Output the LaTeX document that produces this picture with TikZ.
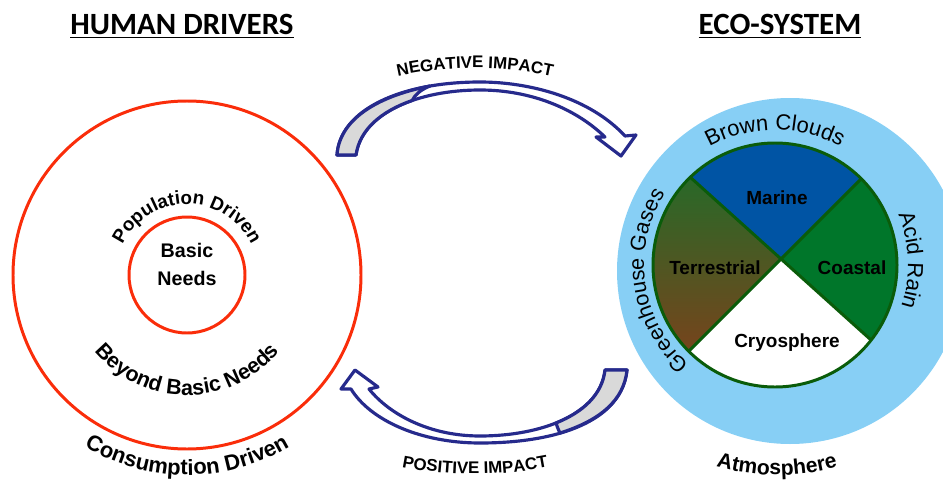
\documentclass[tikz,border=0pt]{standalone}
\usepackage{fontspec}
\setmainfont{Liberation Sans}
\newfontfamily\headfont{Carlito}
\usetikzlibrary{decorations.text}

\definecolor{ringred}{RGB}{250,45,10}
\definecolor{skyring}{RGB}{135,207,245}
\definecolor{marineblue}{RGB}{0,84,164}
\definecolor{coastgreen}{RGB}{0,118,42}
\definecolor{terrgreen}{RGB}{40,105,40}
\definecolor{terrbrown}{RGB}{118,68,28}
\definecolor{piegreen}{RGB}{10,92,10}
\definecolor{arrownavy}{RGB}{38,42,140}
\definecolor{backgray}{RGB}{217,217,217}

\begin{document}
\begin{tikzpicture}[x=0.02cm,y=0.02cm,
    title/.style={font=\headfont\bfseries\fontsize{17.6}{20}\selectfont, anchor=base},
    sector/.style={font=\bfseries\fontsize{10.8}{13}\selectfont},
    redring/.style={draw=ringred, line width=1.7pt},
    pieline/.style={draw=piegreen, line width=1.7pt},
    bandarrow/.style={draw=arrownavy, line width=1.8pt, line join=round},
    arclabel/.style={decorate, decoration={text along path, text align=center, text={#1}}}]

\clip (0,0) rectangle (943,481);

% titles
\node[title] (human) at (182,446) {\underline{HUMAN DRIVERS}};
\node[title] (eco) at (780,446) {\underline{ECO-SYSTEM}};

% human drivers
\coordinate (hc) at (187,206);
\draw[redring] (hc) circle[radius=174];
\draw[redring] (hc) circle[radius=58];
\node[font=\bfseries\fontsize{11.2}{15.9}\selectfont, align=center] (basic) at (187,217) {Basic\\Needs};
\path[arclabel={|\bfseries\fontsize{10.7}{12}\selectfont|Population Driven}]
    ([shift={(175:71)}]hc) arc[start angle=175, end angle=5, radius=71];
\path[arclabel={|\bfseries\fontsize{12.2}{14}\selectfont|Beyond Basic Needs}]
    ([shift={(200:120)}]hc) arc[start angle=200, end angle=340, radius=120];
\path[arclabel={|\bfseries\fontsize{12.5}{14}\selectfont|Consumption Driven}]
    ([shift={(230:200)}]hc) arc[start angle=230, end angle=310, radius=200];

% eco-system
\coordinate (ac) at (790,210);
\coordinate (pc) at (775,216);
\fill[skyring] (ac) circle[radius=173];
\coordinate (ul) at ([shift={(134:122)}]pc);
\coordinate (ur) at ([shift={(45:122)}]pc);
\coordinate (ll) at ([shift={(225:122)}]pc);
\coordinate (lr) at ([shift={(322:122)}]pc);
\coordinate (xc) at (intersection of ul--lr and ur--ll);
\fill[marineblue] (xc) -- (ur) arc[start angle=45, end angle=134, radius=122] -- cycle;
\shade[top color=terrgreen, bottom color=terrbrown] (xc) -- (ul) arc[start angle=134, end angle=225, radius=122] -- cycle;
\fill[white] (xc) -- (ll) arc[start angle=225, end angle=322, radius=122] -- cycle;
\fill[coastgreen] (xc) -- (lr) arc[start angle=322, end angle=405, radius=122] -- cycle;
\draw[pieline] (pc) circle[radius=122];
\draw[pieline] (ul) -- (lr);
\draw[pieline] (ur) -- (ll);
\node[sector] (marine) at (777,283) {Marine};
\node[sector] (terr) at (715,213) {Terrestrial};
\node[sector] (coast) at (852,213) {Coastal};
\node[sector] (cryo) at (787,138) {Cryosphere};

\path[arclabel={|\fontsize{12.5}{14}\selectfont|Brown Clouds}]
    ([shift={(130:135)}]pc) arc[start angle=130, end angle=50, radius=135];
\path[arclabel={|\fontsize{12.3}{14}\selectfont|Greenhouse Gases}]
    ([shift={(240:131)}]pc) arc[start angle=240, end angle=136, radius=131];
\path[arclabel={|\fontsize{12.5}{14}\selectfont|Acid Rain}]
    ([shift={(32:133)}]pc) arc[start angle=32, end angle=-28, radius=133];
\coordinate (atm) at (777,235);
\path[arclabel={|\bfseries\fontsize{12}{13}\selectfont|Atmosphere}]
    ([shift={(248:229)}]atm) arc[start angle=248, end angle=292, radius=229];

% negative impact arrow
\filldraw[bandarrow, fill=white] (337,326) .. controls (340,371) and (400,399) .. (480,399)
    .. controls (530,399) and (590,383) .. (625,345) -- (636,346) -- (621,325) -- (596,344) -- (605,344)
    .. controls (575,373) and (530,391) .. (480,391) .. controls (420,391) and (362,369) .. (356,326) -- cycle;
\filldraw[bandarrow, fill=backgray] (337,326) .. controls (339.3,359.8) and (373.6,383.9) .. (430,395)
    .. controls (420,391) and (415,386) .. (412.1,380.5) .. controls (381.9,370) and (359.6,351.8) .. (356,326) -- cycle;
\coordinate (negc) at (475,53);
\path[arclabel={|\bfseries\fontsize{9.6}{11}\selectfont|NEGATIVE IMPACT}]
    ([shift={(110:360)}]negc) arc[start angle=110, end angle=70, radius=360];

% positive impact arrow
\filldraw[bandarrow, fill=white] (627,111) .. controls (622,61) and (560,38) .. (480,38)
    .. controls (420,38) and (370,61) .. (351,92) -- (341,92) -- (355,111) -- (378,94) -- (369,92)
    .. controls (390,66) and (430,45) .. (480,45) .. controls (540,45) and (600,66) .. (605,111) -- cycle;
\filldraw[bandarrow, fill=backgray] (627,111) .. controls (624,81) and (600.5,60.7) .. (560,48)
    .. controls (558,52) and (557,55) .. (556,58) .. controls (582.9,68.8) and (602.3,86.3) .. (605,111) -- cycle;
\coordinate (posc) at (475,391);
\path[arclabel={|\bfseries\fontsize{9.6}{11}\selectfont|POSITIVE IMPACT}]
    ([shift={(252:384)}]posc) arc[start angle=252, end angle=288, radius=384];

\end{tikzpicture}
\end{document}
